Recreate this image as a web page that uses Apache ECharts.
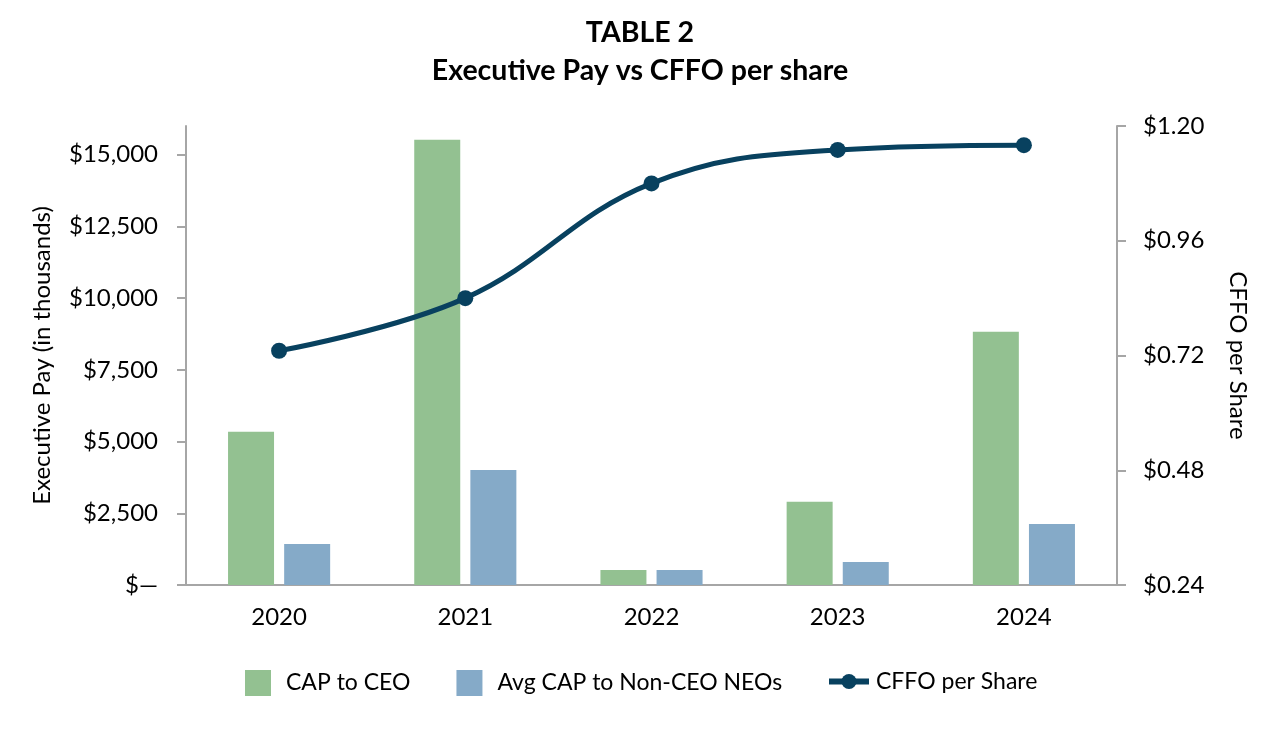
<!DOCTYPE html>
<html>
<head>
<meta charset="utf-8">
<script src="https://cdn.jsdelivr.net/npm/echarts@6/dist/echarts.min.js"></script>
<style>html,body{margin:0;padding:0;background:#fff}#c{width:1280px;height:730px}</style>
</head>
<body>
<div id="c"></div>
<script>
const years = ['2020', '2021', '2022', '2023', '2024'];
const capToCeo = [5340, 15520, 520, 2900, 8830];
const avgCapNonCeo = [1430, 4010, 520, 800, 2130];
const cffoPerShare = [0.73, 0.84, 1.08, 1.15, 1.16];
const titleLines = ['TABLE 2', 'Executive Pay vs CFFO per share'];
const seriesNames = ['CAP to CEO', 'Avg CAP to Non-CEO NEOs', 'CFFO per Share'];

const FONT = 'Lato, "Liberation Sans", sans-serif';
const axisGray = '#a6a6a6';
const green = '#93c191';
const blue = '#85aac8';
const navy = '#08415f';

const chart = echarts.init(document.getElementById('c'));
chart.setOption({
  animation: false,
  textStyle: { fontFamily: FONT },
  title: [
    { text: titleLines[0], left: 'center', top: 13, textStyle: { fontFamily: FONT, fontSize: 28.5, fontWeight: 'bold', color: '#000' } },
    { text: titleLines[1], left: 'center', top: 51, textStyle: { fontFamily: FONT, fontSize: 28.5, fontWeight: 'bold', color: '#000' } }
  ],
  legend: [
    {
      data: [seriesNames[0], seriesNames[1]],
      left: 245, top: 670, padding: 0, icon: 'rect',
      itemWidth: 26, itemHeight: 26, itemGap: 46,
      textStyle: { fontFamily: FONT, fontSize: 23, color: '#000', padding: [0, 0, 0, 10] }
    },
    {
      data: [seriesNames[2]],
      left: 826, top: 670, padding: 0,
      itemWidth: 40, itemHeight: 19,
      lineStyle: { width: 6 },
      textStyle: { fontFamily: FONT, fontSize: 23, color: '#000', padding: [0, 0, 0, 2] }
    }
  ],
  grid: { left: 186, right: 163, top: 126, bottom: 145, containLabel: false },
  xAxis: {
    type: 'category',
    data: years,
    axisLine: { lineStyle: { color: axisGray, width: 2 } },
    axisTick: { alignWithLabel: true, length: 9, lineStyle: { color: axisGray, width: 2 } },
    axisLabel: { fontFamily: FONT, fontSize: 24, color: '#000', margin: 20 }
  },
  yAxis: [
    {
      type: 'value', min: 0, max: 16000, interval: 2500,
      name: 'Executive Pay (in thousands)', nameLocation: 'middle', nameGap: 132, nameRotate: 90,
      nameTextStyle: { fontFamily: FONT, fontSize: 24, color: '#000' },
      axisLine: { show: true, lineStyle: { color: axisGray, width: 2 } },
      axisTick: { show: true, length: 9, lineStyle: { color: axisGray, width: 2 } },
      splitLine: { show: false },
      axisLabel: {
        fontFamily: FONT, fontSize: 24, color: '#000', margin: 28, showMaxLabel: false,
        formatter: v => v === 0 ? '$\u2014' : '$' + v.toLocaleString('en-US')
      }
    },
    {
      type: 'value', min: 0.24, max: 1.20, interval: 0.24, position: 'right',
      name: 'CFFO per Share', nameLocation: 'middle', nameGap: 109, nameRotate: -90,
      nameTextStyle: { fontFamily: FONT, fontSize: 24, color: '#000' },
      axisLine: { show: true, lineStyle: { color: axisGray, width: 2 } },
      axisTick: { show: true, length: 9, lineStyle: { color: axisGray, width: 2 } },
      splitLine: { show: false },
      axisLabel: {
        fontFamily: FONT, fontSize: 24, color: '#000', margin: 26,
        formatter: v => '$' + v.toFixed(2)
      }
    }
  ],
  series: [
    {
      name: seriesNames[0], type: 'bar', data: capToCeo, yAxisIndex: 0,
      barWidth: 46, barGap: '22%', itemStyle: { color: green }
    },
    {
      name: seriesNames[1], type: 'bar', data: avgCapNonCeo, yAxisIndex: 0,
      barWidth: 46, barGap: '22%', itemStyle: { color: blue }
    },
    {
      name: seriesNames[2], type: 'line', data: cffoPerShare, yAxisIndex: 1,
      smooth: 0.4, symbol: 'circle', symbolSize: 16,
      lineStyle: { color: navy, width: 5 }, itemStyle: { color: navy }, z: 5
    }
  ]
});
</script>
</body>
</html>
